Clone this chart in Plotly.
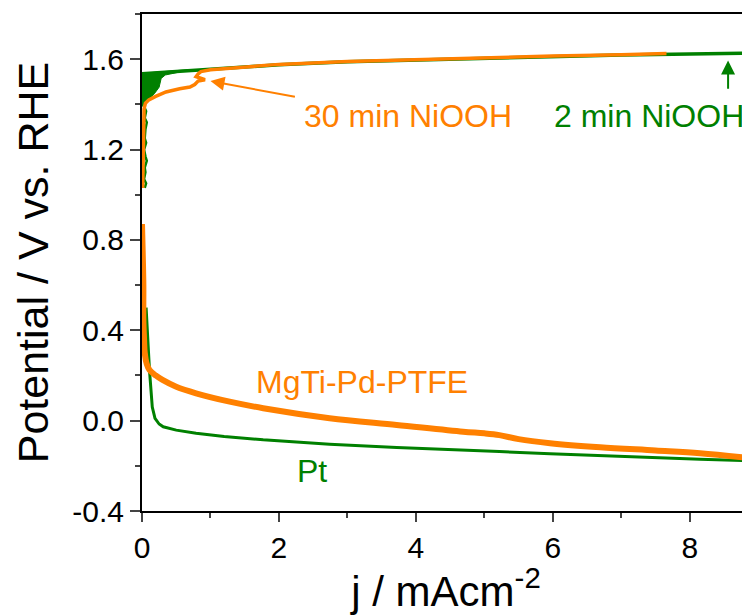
import plotly.graph_objects as go

# ---------------- data ----------------
# Pt / 2 min NiOOH (green) — OER branch
green_oer_j = [0.0, 0.1, 0.3, 0.5, 1.0, 1.5, 2.0, 3.0, 4.0, 5.0, 6.0, 7.0, 8.0, 8.88]
green_oer_v = [1.535, 1.537, 1.542, 1.547, 1.557, 1.566, 1.575, 1.589, 1.597, 1.605, 1.612, 1.618, 1.623, 1.627]

# noisy green band near j = 0 (outline of the filled blob)
green_blob_j = [0.0, 0.0, 0.1, 0.3, 0.5, 0.7, 0.5, 0.34, 0.28, 0.25, 0.18, 0.08, 0.0]
green_blob_v = [1.39, 1.537, 1.540, 1.545, 1.550, 1.554, 1.540, 1.530, 1.515, 1.476, 1.447, 1.415, 1.39]

# scattered green dots below the blob
green_tail_j = [0.03, 0.06, 0.04, 0.07, 0.05, 0.04, 0.06, 0.03, 0.05, 0.07, 0.04, 0.05, 0.03, 0.06, 0.04]
green_tail_v = [1.39, 1.37, 1.34, 1.32, 1.29, 1.25, 1.23, 1.20, 1.17, 1.15, 1.12, 1.10, 1.07, 1.05, 1.03]

# Pt — HER branch
green_her_j = [0.06, 0.07, 0.09, 0.11, 0.13, 0.15, 0.19, 0.25, 0.31, 0.5, 0.79, 1.2, 1.77,
               2.74, 3.72, 4.69, 5.22, 5.96, 6.69, 7.5, 8.15, 8.88]
green_her_v = [0.50, 0.42, 0.33, 0.22, 0.12, 0.06, 0.01, -0.015, -0.027, -0.042, -0.056, -0.070,
               -0.085, -0.104, -0.119, -0.129, -0.137, -0.147, -0.156, -0.164, -0.171, -0.178]

# 30 min NiOOH (orange) — OER branch
orange_oer_j = [0.01, 0.02, 0.02, 0.03, 0.05, 0.1, 0.2, 0.35, 0.55, 0.7, 0.77, 0.82, 0.92, 0.79,
                0.82, 0.86, 1.0, 1.5, 2.0, 3.0, 4.0, 5.0, 6.0, 7.0, 7.66]
orange_oer_v = [1.03, 1.15, 1.30, 1.38, 1.405, 1.42, 1.435, 1.455, 1.469, 1.477, 1.488, 1.503,
                1.509, 1.523, 1.535, 1.545, 1.553, 1.565, 1.577, 1.590, 1.599, 1.607, 1.614,
                1.620, 1.625]

# MgTi-Pd-PTFE (orange) — HER branch
orange_her_j = [0.0, 0.01, 0.02, 0.02, 0.03, 0.04, 0.07, 0.11, 0.2, 0.3, 0.5, 0.79, 1.28, 1.77,
                2.74, 3.72, 4.69, 5.0, 5.22, 5.5, 5.96, 6.69, 7.5, 8.15, 8.88]
orange_her_v = [0.87, 0.75, 0.60, 0.45, 0.36, 0.30, 0.25, 0.224, 0.20, 0.18, 0.15, 0.121, 0.084,
                0.055, 0.011, -0.019, -0.049, -0.056, -0.064, -0.082, -0.100, -0.118, -0.132,
                -0.144, -0.166]

x_ticks = [0, 2, 4, 6, 8]
y_ticks = [-0.4, 0.0, 0.4, 0.8, 1.2, 1.6]
y_tick_labels = ["-0.4", "0.0", "0.4", "0.8", "1.2", "1.6"]

GREEN = "rgb(0,128,0)"
ORANGE = "rgb(255,128,0)"
FONT = "Arial, Liberation Sans, sans-serif"

fig = go.Figure()
fig.add_trace(go.Scatter(x=green_blob_j, y=green_blob_v, fill="toself", fillcolor=GREEN,
                         mode="lines", line=dict(color=GREEN, width=1), hoverinfo="skip"))
fig.add_trace(go.Scatter(x=green_tail_j, y=green_tail_v, mode="lines",
                         line=dict(color=GREEN, width=2.5)))
fig.add_trace(go.Scatter(x=green_oer_j, y=green_oer_v, mode="lines",
                         line=dict(color=GREEN, width=3.5)))
fig.add_trace(go.Scatter(x=green_her_j, y=green_her_v, mode="lines",
                         line=dict(color=GREEN, width=3)))
fig.add_trace(go.Scatter(x=orange_oer_j, y=orange_oer_v, mode="lines",
                         line=dict(color=ORANGE, width=3.5)))
fig.add_trace(go.Scatter(x=orange_her_j, y=orange_her_v, mode="lines", line_shape="spline",
                         line=dict(color=ORANGE, width=6)))

ann_font = dict(family=FONT, size=32)
fig.add_annotation(x=3.88, y=1.35, text="30 min NiOOH", showarrow=False,
                   font=dict(ann_font, color=ORANGE))
fig.add_annotation(x=8.82, y=1.35, xanchor="right", text="2 min NiOOH", showarrow=False,
                   font=dict(ann_font, color=GREEN))
fig.add_annotation(x=3.22, y=0.17, text="MgTi-Pd-PTFE", showarrow=False,
                   font=dict(ann_font, color=ORANGE))
fig.add_annotation(x=2.49, y=-0.225, text="Pt", showarrow=False,
                   font=dict(ann_font, color=GREEN))
# arrows
fig.add_annotation(x=1.0, y=1.503, ax=2.255, ay=1.432, axref="x", ayref="y", text="",
                   showarrow=True, arrowhead=2, arrowsize=1.4, arrowwidth=2, arrowcolor=ORANGE)
fig.add_annotation(x=8.56, y=1.594, ax=8.56, ay=1.462, axref="x", ayref="y", text="",
                   showarrow=True, arrowhead=2, arrowsize=1.4, arrowwidth=2, arrowcolor=GREEN)

# page body has an 8px margin, so the figure is made 8px smaller and shifted accordingly
fig.update_layout(
    width=742, height=607,
    margin=dict(l=134, r=0, t=6, b=104, autoexpand=False),
    paper_bgcolor="white", plot_bgcolor="white",
    showlegend=False,
    font=dict(family=FONT, color="black"),
    xaxis=dict(range=[0, 8.88], tickvals=x_ticks, ticks="outside", ticklen=9, tickwidth=2,
               showline=True, linewidth=2, linecolor="black", mirror=True, showgrid=False,
               zeroline=False, tickfont=dict(size=30), automargin=False,
               minor=dict(dtick=1, tick0=0, ticks="outside", ticklen=5, tickwidth=2),
               title=dict(text="j / mAcm<sup>-2</sup>", font=dict(size=42), standoff=6)),
    yaxis=dict(range=[-0.4, 1.8], tickvals=y_ticks, ticktext=y_tick_labels, ticks="outside",
               ticklen=10, tickwidth=2, showline=True, linewidth=2, linecolor="black",
               mirror=False, showgrid=False, zeroline=False, tickfont=dict(size=30),
               automargin=False,
               minor=dict(dtick=0.2, tick0=0, ticks="outside", ticklen=5, tickwidth=2),
               title=dict(text="Potential / V vs. RHE", font=dict(size=43), standoff=10)),
)

fig.write_html("out.html")
